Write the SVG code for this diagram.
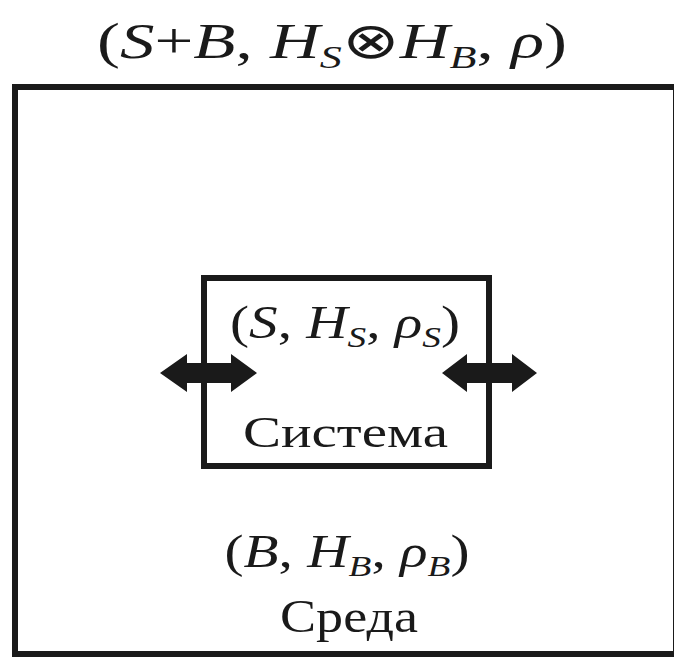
<svg xmlns="http://www.w3.org/2000/svg" width="674" height="658" viewBox="0 0 674 658">
<style>
.t{font-family:"Liberation Serif","Times New Roman",serif;fill:#1a1a1a;text-anchor:middle}
.i{font-style:italic}
.box{fill:none;stroke:#1a1a1a;stroke-width:6}
.arr{fill:#1a1a1a}
</style>
<rect width="674" height="658" fill="#fff"/>
<g id="environment">
<rect class="box" x="15" y="87" width="661" height="567"/>
<text class="t" x="347" y="567" font-size="46" textLength="245" lengthAdjust="spacingAndGlyphs">(<tspan class="i">B</tspan>, <tspan class="i">H</tspan><tspan class="i" font-size="30" dy="9">B</tspan><tspan dy="-9">, </tspan><tspan class="i">ρ</tspan><tspan class="i" font-size="30" dy="9">B</tspan><tspan dy="-9">)</tspan></text>
<text class="t" x="349" y="632" font-size="46" textLength="138" lengthAdjust="spacingAndGlyphs">Среда</text>
</g>
<g id="title">
<text class="t" x="332" y="58" font-size="50" textLength="470" lengthAdjust="spacingAndGlyphs">(<tspan class="i">S</tspan>+<tspan class="i">B</tspan>, <tspan class="i">H</tspan><tspan class="i" font-size="32" dy="10">S</tspan><tspan dy="-10">⊗</tspan><tspan class="i">H</tspan><tspan class="i" font-size="32" dy="10">B</tspan><tspan dy="-10">, </tspan><tspan class="i">ρ</tspan>)</text>
</g>
<g id="system">
<rect class="box" x="204" y="278" width="285" height="188" stroke-width="7"/>
<text class="t" x="345" y="338" font-size="46" textLength="230" lengthAdjust="spacingAndGlyphs">(<tspan class="i">S</tspan>, <tspan class="i">H</tspan><tspan class="i" font-size="30" dy="9">S</tspan><tspan dy="-9">, </tspan><tspan class="i">ρ</tspan><tspan class="i" font-size="30" dy="9">S</tspan><tspan dy="-9">)</tspan></text>
<text class="t" x="345.5" y="447" font-size="45" textLength="205" lengthAdjust="spacingAndGlyphs">Система</text>
</g>
<g id="connectors">
<polygon class="arr" points="160,373 187,354 187,363 231,363 231,354 257,373 231,392 231,383 187,383 187,392"/>
<polygon class="arr" points="442,373 467,354 467,363 512,363 512,354 537,373 512,392 512,383 467,383 467,392"/>
</g>
</svg>
